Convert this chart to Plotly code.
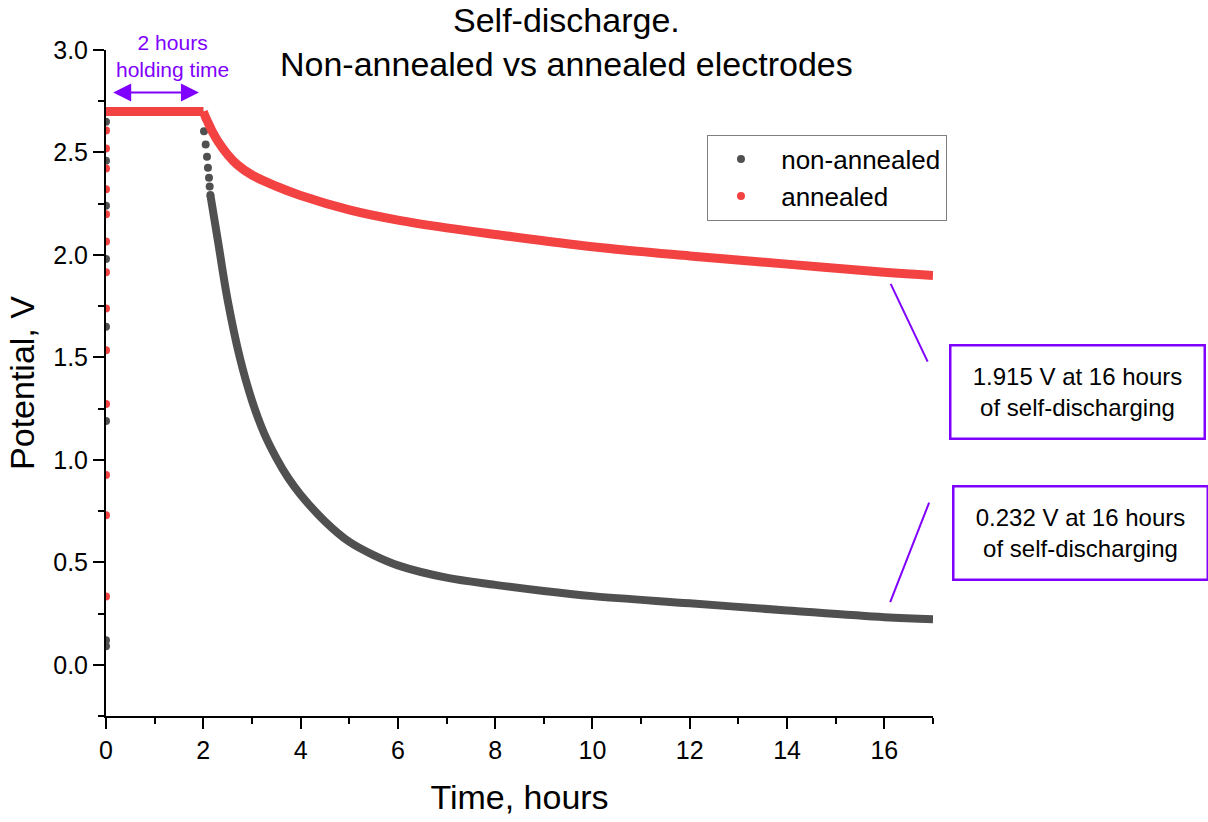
import plotly.graph_objects as go

# ---- data ----
# non-annealed electrode
na_charge_t = [0, 0, 0, 0, 0, 0, 0, 0]
na_charge_v = [0.09, 0.12, 1.19, 1.65, 1.98, 2.24, 2.46, 2.65]
na_hold_t = [0.0, 2.0]
na_hold_v = [2.70, 2.70]
na_drop_t = [2.015, 2.049, 2.076, 2.096, 2.117, 2.131, 2.145]
na_drop_v = [2.603, 2.539, 2.479, 2.426, 2.377, 2.334, 2.293]
na_decay_t = [2.145, 2.3, 2.5, 2.75, 3.0, 3.25, 3.5, 3.75, 4.0, 4.5, 5.0, 5.5, 6.0, 7.0, 8.0, 9.0,
              10.0, 12.0, 14.0, 16.0, 17.0]
na_decay_v = [2.293, 2.07, 1.78, 1.50, 1.29, 1.13, 1.01, 0.91, 0.83, 0.70, 0.60, 0.535, 0.485, 0.425,
              0.39, 0.36, 0.335, 0.30, 0.265, 0.232, 0.222]

# annealed electrode
an_charge_t = [0, 0, 0, 0, 0, 0, 0, 0, 0, 0, 0, 0, 0]
an_charge_v = [0.333, 0.73, 0.926, 1.273, 1.535, 1.738, 1.916, 2.065, 2.199, 2.32, 2.422, 2.519, 2.607]
an_hold_t = [0.0, 2.0]
an_hold_v = [2.70, 2.70]
an_decay_t = [2.0, 2.05, 2.1, 2.2, 2.3, 2.5, 2.7, 3.0, 3.5, 4.0, 5.0, 6.0, 7.0, 8.0, 10.0, 12.0, 14.0,
              16.0, 17.0]
an_decay_v = [2.70, 2.67, 2.645, 2.595, 2.555, 2.49, 2.44, 2.39, 2.335, 2.29, 2.22, 2.17, 2.132, 2.10,
              2.04, 1.995, 1.955, 1.915, 1.90]

x_ticks = [0, 2, 4, 6, 8, 10, 12, 14, 16]
y_ticks = [0.0, 0.5, 1.0, 1.5, 2.0, 2.5, 3.0]

GRAY = "#505050"
RED = "#F24242"
PURPLE = "#7F00FF"
FONT = "Liberation Sans, Arial, sans-serif"
NB = "\u00a0"

fig = go.Figure()

# non-annealed
fig.add_trace(go.Scatter(x=na_charge_t, y=na_charge_v, mode="markers", name=NB + "non-annealed",
                         marker=dict(color=GRAY, size=8), legendgroup="na"))
fig.add_trace(go.Scatter(x=na_hold_t, y=na_hold_v, mode="lines", showlegend=False,
                         line=dict(color=GRAY, width=8), legendgroup="na"))
fig.add_trace(go.Scatter(x=na_drop_t, y=na_drop_v, mode="markers", showlegend=False,
                         marker=dict(color=GRAY, size=8), legendgroup="na"))
fig.add_trace(go.Scatter(x=na_decay_t, y=na_decay_v, mode="lines", showlegend=False,
                         line=dict(color=GRAY, width=8, shape="spline", smoothing=1.0), legendgroup="na"))

# annealed
fig.add_trace(go.Scatter(x=an_charge_t, y=an_charge_v, mode="markers", name=NB + "annealed",
                         marker=dict(color=RED, size=8), legendgroup="an"))
fig.add_trace(go.Scatter(x=an_hold_t, y=an_hold_v, mode="lines", showlegend=False,
                         line=dict(color=RED, width=9), legendgroup="an"))
fig.add_trace(go.Scatter(x=an_decay_t, y=an_decay_v, mode="lines", showlegend=False,
                         line=dict(color=RED, width=9, shape="spline", smoothing=1.0), legendgroup="an"))

axis_common = dict(showline=True, linecolor="black", linewidth=2, ticks="outside",
                   ticklen=11, tickwidth=2, tickcolor="black", showgrid=False, zeroline=False,
                   mirror=False, tickfont=dict(family=FONT, size=25, color="black"))

fig.update_xaxes(range=[0, 17], tickvals=x_ticks, ticktext=[str(v) for v in x_ticks],
                 minor=dict(dtick=1, tick0=0, ticks="outside", ticklen=6, tickwidth=2, tickcolor="black"),
                 title=dict(text="Time, hours", font=dict(family=FONT, size=34, color="black"), standoff=22),
                 **axis_common)
fig.update_yaxes(range=[-0.25, 3.0], tickvals=y_ticks, ticktext=[f"{v:.1f}" for v in y_ticks],
                 minor=dict(dtick=0.25, tick0=0, ticks="outside", ticklen=6, tickwidth=2, tickcolor="black"),
                 title=dict(text="Potential, V", font=dict(family=FONT, size=34, color="black"), standoff=8),
                 **axis_common)

annotations = [
    dict(text="Self-discharge.<br>Non-annealed vs annealed electrodes", xref="paper", yref="paper",
         x=0.5574, y=1.012, xanchor="center", yanchor="middle", showarrow=False,
         font=dict(family=FONT, size=34, color="black")),
    dict(text="2 hours<br>holding time", xref="paper", yref="paper", x=0.081, y=0.991,
         xanchor="center", yanchor="middle", showarrow=False,
         font=dict(family=FONT, size=21, color=PURPLE)),
    dict(text="", x=1.91, y=2.793, ax=0.117, ay=2.793, xref="x", yref="y", axref="x", ayref="y",
         showarrow=True, arrowside="end+start", arrowhead=2, arrowsize=1.8, arrowwidth=2,
         arrowcolor=PURPLE, standoff=0, startstandoff=0),
    dict(text="1.915 V at 16 hours<br>of self-discharging", xref="paper", yref="paper",
         x=1.1753, y=0.4861, xanchor="center", yanchor="middle", showarrow=False,
         width=248, height=87, borderpad=2, bordercolor=PURPLE, borderwidth=2.5,
         bgcolor="white", font=dict(family=FONT, size=24, color="black")),
    dict(text="0.232 V at 16 hours<br>of self-discharging", xref="paper", yref="paper",
         x=1.1778, y=0.2747, xanchor="center", yanchor="middle", showarrow=False,
         width=248, height=87, borderpad=2, bordercolor=PURPLE, borderwidth=2.5,
         bgcolor="white", font=dict(family=FONT, size=24, color="black")),
]

shapes = [
    dict(type="line", xref="x", yref="y", x0=16.13, y0=1.859, x1=16.89, y1=1.479,
         line=dict(color=PURPLE, width=2)),
    dict(type="line", xref="x", yref="y", x0=16.92, y0=0.791, x1=16.12, y1=0.306,
         line=dict(color=PURPLE, width=2)),
]

fig.update_layout(
    width=1208, height=822,
    margin=dict(l=106, r=275, t=50, b=104),
    plot_bgcolor="white", paper_bgcolor="white",
    font=dict(family=FONT, color="black"),
    showlegend=True,
    legend=dict(x=0.7267, y=0.8728, xanchor="left", yanchor="top",
                bordercolor="#808080", borderwidth=1, bgcolor="white",
                font=dict(family=FONT, size=26, color="black"),
                itemwidth=56, tracegroupgap=0),
    annotations=annotations,
    shapes=shapes,
)

fig.write_html("out.html")
